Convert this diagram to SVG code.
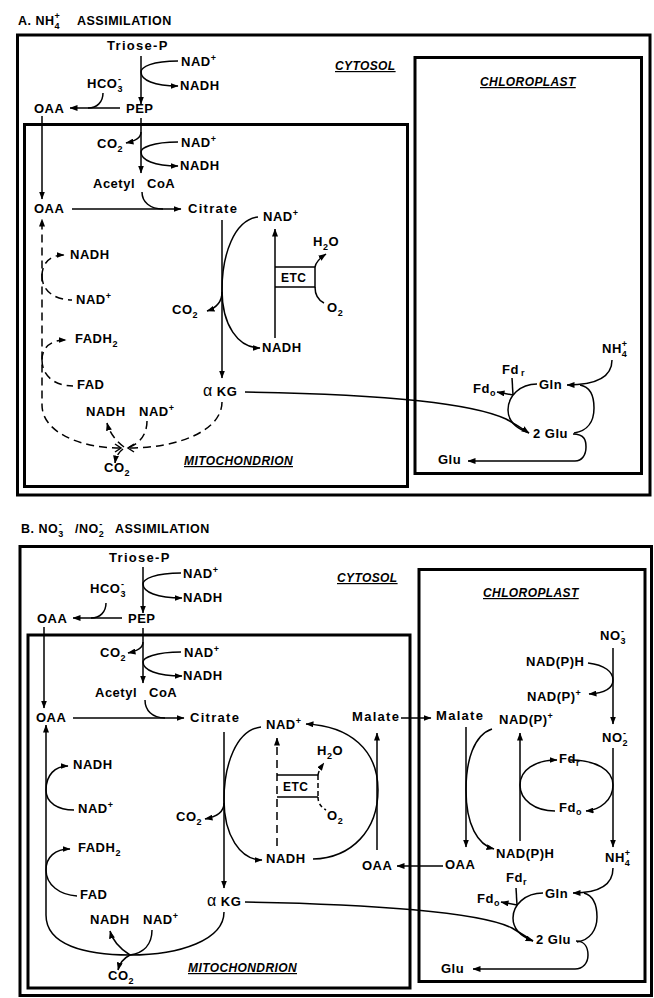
<svg xmlns="http://www.w3.org/2000/svg" width="654" height="998" viewBox="0 0 654 998">
<defs>
<style>
text{font-family:"Liberation Sans",Arial,Helvetica,sans-serif;font-weight:bold;font-size:13px;fill:#000;letter-spacing:0.5px}
.sb,.sp{font-size:9px}
.ls{letter-spacing:1.3px}
.ttl{font-size:12.5px}
.cmp{font-size:12px;font-style:italic;text-decoration:underline;letter-spacing:0.4px}
.etc{font-size:12px}
.al{font-size:16px;font-weight:normal}
.box{fill:none;stroke:#000;stroke-width:3}
.c{fill:none;stroke:#000;stroke-width:1.5}
.d{stroke-dasharray:8 5}
</style>
<marker id="ah" viewBox="0 0 8 6" refX="7.5" refY="3" markerWidth="8" markerHeight="6" orient="auto" markerUnits="userSpaceOnUse"><path d="M0,0 L8,3 L0,6 Z" fill="#000"/></marker>
</defs>
<rect width="654" height="998" fill="#fff"/>

<!-- ================= PANEL A ================= -->
<g id="A-title"><text class="ttl" x="18" y="25">A. NH<tspan class="sb" dy="4">4</tspan><tspan class="sp" dx="-5.5" dy="-10">+</tspan><tspan x="77" dy="6">ASSIMILATION</tspan></text></g>
<g id="A-compartments">
<rect class="box" x="17.5" y="35" width="632.5" height="460"/>
<rect class="box" x="24.5" y="124.5" width="383" height="362"/>
<rect class="box" x="415" y="57.5" width="226.5" height="416"/>
</g>
<g id="A-cytosol-label"><text class="cmp" x="335" y="70">CYTOSOL</text></g>
<g id="A-chloroplast-label"><text class="cmp" x="480" y="86">CHLOROPLAST</text></g>
<g id="A-mito-label"><text class="cmp" x="184" y="465">MITOCHONDRION</text></g>

<g id="A-triose"><text class="ls" x="107" y="50">Triose-P</text></g>
<g id="A-nad1"><text x="181" y="66">NAD<tspan class="sp" dy="-5">+</tspan></text></g>
<g id="A-nadh1"><text x="180" y="90">NADH</text></g>
<g id="A-hco3"><text x="87" y="88">HCO<tspan class="sb" dy="4">3</tspan><tspan class="sp" dx="-5" dy="-10">-</tspan></text></g>
<g id="A-oaa-cyt"><text x="34" y="113">OAA</text></g>
<g id="A-pep"><text x="126" y="113">PEP</text></g>
<g id="A-co2-1"><text x="97" y="148">CO<tspan class="sb" dy="4">2</tspan></text></g>
<g id="A-nad2"><text x="181" y="147">NAD<tspan class="sp" dy="-5">+</tspan></text></g>
<g id="A-nadh2"><text x="180" y="170">NADH</text></g>
<g id="A-acetylcoa"><text x="93" y="188">Acetyl<tspan x="147">CoA</tspan></text></g>
<g id="A-oaa-mito"><text x="34" y="213">OAA</text></g>
<g id="A-citrate"><text class="ls" x="188" y="213">Citrate</text></g>
<g id="A-nad3"><text x="263" y="221">NAD<tspan class="sp" dy="-5">+</tspan></text></g>
<g id="A-h2o"><text x="313" y="246">H<tspan class="sb" dy="4">2</tspan><tspan dy="-4">O</tspan></text></g>
<g id="A-etc"><path class="c" d="M275,267 H315 V287 H275"/><text class="etc" x="281" y="282">ETC</text></g>
<g id="A-o2"><text x="327" y="312">O<tspan class="sb" dy="4">2</tspan></text></g>
<g id="A-co2-2"><text x="172" y="314">CO<tspan class="sb" dy="4">2</tspan></text></g>
<g id="A-nadh3"><text x="262" y="352">NADH</text></g>
<g id="A-akg"><text x="203" y="396"><tspan class="al">α</tspan> KG</text></g>
<g id="A-nadh4"><text x="70" y="259">NADH</text></g>
<g id="A-nad4"><text x="76" y="304">NAD<tspan class="sp" dy="-5">+</tspan></text></g>
<g id="A-fadh2"><text x="75" y="343">FADH<tspan class="sb" dy="4">2</tspan></text></g>
<g id="A-fad"><text x="77" y="389">FAD</text></g>
<g id="A-nadh5"><text x="86" y="416">NADH</text></g>
<g id="A-nad5"><text x="139" y="416">NAD<tspan class="sp" dy="-5">+</tspan></text></g>
<g id="A-co2-3"><text x="104" y="472">CO<tspan class="sb" dy="4">2</tspan></text></g>
<g id="A-nh4"><text x="602" y="353">NH<tspan class="sb" dy="4">4</tspan><tspan class="sp" dx="-5.5" dy="-10">+</tspan></text></g>
<g id="A-fdr"><text x="502" y="374">Fd<tspan class="sb" dx="2" dy="2">r</tspan></text></g>
<g id="A-gln"><text x="539" y="389">Gln</text></g>
<g id="A-fdo"><text x="473" y="393">Fd<tspan class="sb" dy="3">o</tspan></text></g>
<g id="A-2glu"><text x="533" y="438">2 Glu</text></g>
<g id="A-glu"><text x="438" y="464">Glu</text></g>

<g id="A-connectors" class="c">
<path class="c" d="M141,56 L141,104" marker-end="url(#ah)"/>
<path class="c" d="M178,61 C152,61 141,67 141,72 C141,80 154,86 178,86" marker-end="url(#ah)"/>
<path class="c" d="M120,108 L70,108" marker-end="url(#ah)"/>
<path class="c" d="M103,93 C103,102 97,108 88,108"/>
<path class="c" d="M141,118 L141,173" marker-end="url(#ah)"/>
<path class="c" d="M141,132 C141,138 136,141 126,143" marker-end="url(#ah)"/>
<path class="c" d="M178,142 C152,142 141,148 141,152 C141,160 154,166 178,166" marker-end="url(#ah)"/>
<path class="c" d="M42,116 L42,199" marker-end="url(#ah)"/>
<path class="c" d="M72,209 L181,209" marker-end="url(#ah)"/>
<path class="c" d="M142,192 C142,202 150,209 163,209"/>
<path class="c" d="M222,220 L222,378" marker-end="url(#ah)"/>
<path class="c" d="M258,217 C234,220 222,255 222,290 C222,325 238,348 260,348" marker-end="url(#ah)"/>
<path class="c" d="M222,292 C222,302 216,308 207,311" marker-end="url(#ah)"/>
<path class="c" d="M275,338 L275,229" marker-end="url(#ah)"/>
<path class="c" d="M315,267 C316,262 320,258 326,254" marker-end="url(#ah)"/>
<path class="c" d="M315,287 C315,295 318,300 324,303"/>
<!-- dashed TCA cycle -->
<path class="c d" d="M120,448 C80,448 42,432 42,405 L42,219" marker-end="url(#ah)"/>
<path class="c" d="M115,444 L121,448 L115,452"/>
<path class="c d" d="M222,402 C222,430 180,448 128,448"/>
<path class="c" d="M134,444 L128,448 L134,452"/>
<path class="c d" d="M42,276 C42,263 50,255 64,255" marker-end="url(#ah)"/>
<path class="c d" d="M42,276 C42,291 55,300 72,300"/>
<path class="c d" d="M42,360 C42,348 50,340 66,340" marker-end="url(#ah)"/>
<path class="c d" d="M42,360 C42,376 55,386 73,386"/>
<path class="c d" d="M124,447 C117,442 110,434 107,423" marker-end="url(#ah)"/>
<path class="c d" d="M147,421 C147,434 140,444 127,448"/>
<path class="c d" d="M123,449 C119,452 116,456 115,463" marker-end="url(#ah)"/>
<!-- chloroplast -->
<path class="c" d="M245,392 C370,394 470,402 506,419 Q517,425 529,433" marker-end="url(#ah)"/>
<path class="c" d="M537,384 C520,384 508,396 508,410 C508,420 515,428 529,433"/>
<path class="c" d="M512,378 L513,395"/>
<path class="c" d="M513,395 L497,392" marker-end="url(#ah)"/>
<path class="c" d="M612,360 C612,376 598,385 567,385" marker-end="url(#ah)"/>
<path class="c" d="M580,385 C591,387 594,396 594,408 C594,421 588,431 574,433"/>
<path class="c" d="M573,434 C585,434 586,441 586,447 C586,455 582,461 575,461 L468,461" marker-end="url(#ah)"/>
</g>

<!-- ================= PANEL B ================= -->
<g id="B-title"><text class="ttl" x="21" y="533">B. NO<tspan class="sb" dy="4">3</tspan><tspan class="sp" dx="-5" dy="-10">-</tspan><tspan x="75" dy="6">/NO</tspan><tspan class="sb" dy="4">2</tspan><tspan class="sp" dx="-5" dy="-10">-</tspan><tspan x="115" dy="6">ASSIMILATION</tspan></text></g>
<g id="B-compartments">
<rect class="box" x="20" y="546.5" width="631.5" height="449"/>
<rect class="box" x="28" y="635" width="382" height="353"/>
<rect class="box" x="419" y="569.5" width="226" height="412"/>
</g>
<g id="B-cytosol-label"><text class="cmp" x="337" y="582">CYTOSOL</text></g>
<g id="B-chloroplast-label"><text class="cmp" x="483" y="597">CHLOROPLAST</text></g>
<g id="B-mito-label"><text class="cmp" x="188" y="972">MITOCHONDRION</text></g>

<g id="B-triose"><text class="ls" x="109" y="562">Triose-P</text></g>
<g id="B-nad1"><text x="183" y="578">NAD<tspan class="sp" dy="-5">+</tspan></text></g>
<g id="B-nadh1"><text x="183" y="602">NADH</text></g>
<g id="B-hco3"><text x="90" y="593">HCO<tspan class="sb" dy="4">3</tspan><tspan class="sp" dx="-5" dy="-10">-</tspan></text></g>
<g id="B-oaa-cyt"><text x="37" y="623">OAA</text></g>
<g id="B-pep"><text x="128" y="623">PEP</text></g>
<g id="B-co2-1"><text x="100" y="657">CO<tspan class="sb" dy="4">2</tspan></text></g>
<g id="B-nad2"><text x="184" y="657">NAD<tspan class="sp" dy="-5">+</tspan></text></g>
<g id="B-nadh2"><text x="183" y="680">NADH</text></g>
<g id="B-acetylcoa"><text x="95" y="697">Acetyl<tspan x="149">CoA</tspan></text></g>
<g id="B-oaa-mito"><text x="36" y="722">OAA</text></g>
<g id="B-citrate"><text class="ls" x="190" y="722">Citrate</text></g>
<g id="B-nad3"><text x="266" y="729">NAD<tspan class="sp" dy="-5">+</tspan></text></g>
<g id="B-malate-mito"><text class="ls" x="352" y="721">Malate</text></g>
<g id="B-malate-chl"><text class="ls" x="436" y="720">Malate</text></g>
<g id="B-nadp-mid"><text x="499" y="724">NAD(P)<tspan class="sp" dy="-5">+</tspan></text></g>
<g id="B-no3"><text x="600" y="640">NO<tspan class="sb" dy="4">3</tspan><tspan class="sp" dx="-5" dy="-10">-</tspan></text></g>
<g id="B-nadph-up"><text x="526" y="666">NAD(P)H</text></g>
<g id="B-nadp-up"><text x="527" y="701">NAD(P)<tspan class="sp" dy="-5">+</tspan></text></g>
<g id="B-no2"><text x="602" y="742">NO<tspan class="sb" dy="4">2</tspan><tspan class="sp" dx="-5" dy="-10">-</tspan></text></g>
<g id="B-h2o"><text x="317" y="755">H<tspan class="sb" dy="4">2</tspan><tspan dy="-4">O</tspan></text></g>
<g id="B-etc"><path class="c" d="M277,775 H318 M277,797 H318"/><path class="c d" d="M318,775 V797" style="stroke-dasharray:5 3"/><text class="etc" x="283" y="791">ETC</text></g>
<g id="B-o2"><text x="327" y="820">O<tspan class="sb" dy="4">2</tspan></text></g>
<g id="B-co2-2"><text x="176" y="821">CO<tspan class="sb" dy="4">2</tspan></text></g>
<g id="B-nadh3"><text x="266" y="863">NADH</text></g>
<g id="B-oaa-mito2"><text x="362" y="870">OAA</text></g>
<g id="B-oaa-chl"><text x="445" y="869">OAA</text></g>
<g id="B-nadph-low"><text x="496" y="858">NAD(P)H</text></g>
<g id="B-fdr1"><text x="559" y="763">Fd<tspan class="sb" dy="3">r</tspan></text></g>
<g id="B-fdo1"><text x="559" y="812">Fd<tspan class="sb" dy="3">o</tspan></text></g>
<g id="B-nh4"><text x="605" y="862">NH<tspan class="sb" dy="4">4</tspan><tspan class="sp" dx="-5.5" dy="-10">+</tspan></text></g>
<g id="B-fdr2"><text x="506" y="882">Fd<tspan class="sb" dy="3">r</tspan></text></g>
<g id="B-gln"><text x="545" y="898">Gln</text></g>
<g id="B-fdo2"><text x="477" y="903">Fd<tspan class="sb" dy="3">o</tspan></text></g>
<g id="B-2glu"><text x="536" y="944">2 Glu</text></g>
<g id="B-glu"><text x="441" y="973">Glu</text></g>
<g id="B-akg"><text x="207" y="906"><tspan class="al">α</tspan> KG</text></g>
<g id="B-nadh4"><text x="73" y="769">NADH</text></g>
<g id="B-nad4"><text x="78" y="813">NAD<tspan class="sp" dy="-5">+</tspan></text></g>
<g id="B-fadh2"><text x="78" y="852">FADH<tspan class="sb" dy="4">2</tspan></text></g>
<g id="B-fad"><text x="80" y="899">FAD</text></g>
<g id="B-nadh5"><text x="90" y="924">NADH</text></g>
<g id="B-nad5"><text x="143" y="924">NAD<tspan class="sp" dy="-5">+</tspan></text></g>
<g id="B-co2-3"><text x="108" y="980">CO<tspan class="sb" dy="4">2</tspan></text></g>

<g id="B-connectors">
<path class="c" d="M143,567 L143,613" marker-end="url(#ah)"/>
<path class="c" d="M181,573 C155,573 143,579 143,584 C143,592 157,598 182,598" marker-end="url(#ah)"/>
<path class="c" d="M122,618 L73,618" marker-end="url(#ah)"/>
<path class="c" d="M106,603 C106,612 100,618 91,618"/>
<path class="c" d="M143,628 L143,683" marker-end="url(#ah)"/>
<path class="c" d="M143,642 C143,648 138,651 128,653" marker-end="url(#ah)"/>
<path class="c" d="M181,652 C155,652 143,658 143,662 C143,670 157,676 182,676" marker-end="url(#ah)"/>
<path class="c" d="M44,627 L44,708" marker-end="url(#ah)"/>
<path class="c" d="M73,718 L184,718" marker-end="url(#ah)"/>
<path class="c" d="M145,700 C145,710 152,718 165,718"/>
<path class="c" d="M224,732 L224,888" marker-end="url(#ah)"/>
<path class="c" d="M261,727 C236,730 224,765 224,800 C224,835 240,860 262,860" marker-end="url(#ah)"/>
<path class="c" d="M224,803 C224,812 216,817 205,819" marker-end="url(#ah)"/>
<path class="c d" d="M277,846 L277,738" marker-end="url(#ah)"/>
<path class="c d" d="M318,775 C319,770 321,767 324,763" marker-end="url(#ah)" style="stroke-dasharray:4 3"/>
<path class="c d" d="M318,797 C318,803 321,807 326,810" style="stroke-dasharray:4 3"/>
<path class="c" d="M313,859 C352,858 378,830 378,790 C378,750 350,726 306,724" marker-end="url(#ah)"/>
<path class="c" d="M377,850 L377,733" marker-end="url(#ah)"/>
<path class="c" d="M401,718 L431,718" marker-end="url(#ah)"/>
<path class="c" d="M443,866 L397,866" marker-end="url(#ah)"/>
<path class="c" d="M466,727 L466,847" marker-end="url(#ah)"/>
<path class="c" d="M492,729 C474,735 466,760 466,790 C466,825 478,845 494,849" marker-end="url(#ah)"/>
<path class="c" d="M520,841 L520,733" marker-end="url(#ah)"/>
<path class="c" d="M555,811 C535,811 520,800 520,785 C520,770 535,760 557,760" marker-end="url(#ah)"/>
<path class="c" d="M570,760 C596,760 613,770 613,785 C613,800 600,810 586,811" marker-end="url(#ah)"/>
<path class="c" d="M613,648 L613,724" marker-end="url(#ah)"/>
<path class="c" d="M588,663 C605,665 613,672 613,680 C613,688 605,693 589,694" marker-end="url(#ah)"/>
<path class="c" d="M613,748 L613,847" marker-end="url(#ah)"/>
<path class="c" d="M613,868 C613,885 600,893 573,893" marker-end="url(#ah)"/>
<path class="c" d="M584,893 C594,896 597,905 597,917 C597,930 590,940 577,942"/>
<path class="c" d="M576,941 C585,941 588,948 588,955 C588,963 583,969 575,969 L473,969" marker-end="url(#ah)"/>
<path class="c" d="M543,893 C525,893 513,905 513,918 C513,928 520,936 533,941" marker-end="url(#ah)"/>
<path class="c" d="M516,888 L517,905"/>
<path class="c" d="M517,905 L501,902" marker-end="url(#ah)"/>
<path class="c" d="M245,902 C370,904 480,912 512,928 Q522,934 533,941"/>
<!-- solid TCA cycle -->
<path class="c" d="M224,912 C224,940 180,955 130,955 C85,955 46,945 46,915 L46,725" marker-end="url(#ah)"/>
<path class="c" d="M46,790 C46,775 55,766 68,766" marker-end="url(#ah)"/>
<path class="c" d="M46,790 C46,803 58,810 74,810"/>
<path class="c" d="M46,870 C46,857 55,849 70,849" marker-end="url(#ah)"/>
<path class="c" d="M46,870 C46,885 60,895 77,896"/>
<path class="c" d="M130,955 C122,950 113,942 110,931" marker-end="url(#ah)"/>
<path class="c" d="M152,930 C152,945 143,953 130,955"/>
<path class="c" d="M130,955 C124,958 120,962 118,970" marker-end="url(#ah)"/>
</g>
</svg>
